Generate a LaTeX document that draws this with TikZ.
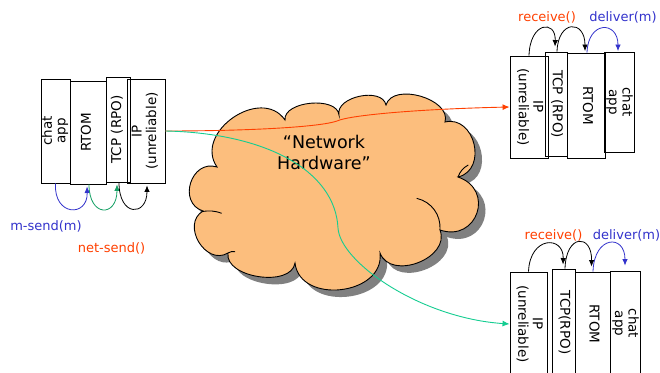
\documentclass[tikz,border=0pt]{standalone}
\usepackage{fontspec}
\setmainfont{DejaVu Sans}
\usetikzlibrary{arrows.meta,calc}

\definecolor{cloudfill}{RGB}{252,190,125}
\definecolor{shadowgray}{RGB}{128,128,128}
\definecolor{sendblue}{RGB}{51,51,204}
\definecolor{netred}{RGB}{255,64,0}
\definecolor{pathgreen}{RGB}{20,205,145}
\definecolor{stepgreen}{RGB}{20,160,100}

% rotated, centred multi-line text for a protocol layer
\newcommand{\layertext}[2]{\rotatebox{#1}{\begin{tabular}{@{}c@{}}#2\end{tabular}}}

% outline of the network cloud
\def\cloudoutline{(217,-167)
  to[bend left=90,looseness=1.3]  (285,-120)
  to[bend left=90,looseness=0.9]  (339,-115)
  to[bend left=90,looseness=1.0]  (386,-105)
  to[bend left=90,looseness=1.0]  (445,-122)
  to[bend left=90,looseness=1.4]  (458,-177)
  to[bend left=90,looseness=1.8]  (440,-230)
  to[bend left=90,looseness=1.2]  (380,-253)
  to[bend left=90,looseness=1.27] (295,-263)
  to[bend left=90,looseness=0.95] (228,-253)
  to[bend left=90,looseness=1.36] (203,-211)
  to[bend left=90,looseness=1.5]  (217,-167) -- cycle}

\tikzset{
  layer/.style={draw, line width=0.9pt, inner sep=0pt,
                font=\fontsize{13.5}{13.5}\selectfont},
  lbl/.style={font=\fontsize{13}{15}\selectfont, inner sep=1pt},
  tip/.style={-{Latex[length=6.5pt,width=5.5pt]}, line width=0.8pt},
  link/.style={-{Latex[length=7pt,width=6pt]}, line width=0.9pt},
}

\begin{document}
\begin{tikzpicture}[x=1pt,y=1pt]
\clip (0,0) rectangle (660,-372);
\fill[white] (0,0) rectangle (660,-372);

% ---- sender stack ----
\node[layer, minimum width=29pt, minimum height=104pt] (chatL) at (55.5,-131)  {\layertext{90}{chat\\app}};
\node[layer, minimum width=36pt, minimum height=103pt] (rtomL) at (88,-132.5)  {\layertext{90}{RTOM}};
\node[layer, minimum width=38pt, minimum height=104pt] (ipL)   at (146,-131)   {\layertext{90}{IP\\(unreliable)}};
\node[layer, minimum width=24pt, minimum height=105pt] (tcpL)  at (118,-129.5) {\layertext{90}{TCP (RPO)}};

% ---- receiver stack, top ----
\node[layer, minimum width=38pt, minimum height=102pt] (ipA)   at (529,-107)   {\layertext{-90}{IP\\(unreliable)}};
\node[layer, minimum width=22pt, minimum height=104pt] (tcpA)  at (556,-104)   {\layertext{-90}{TCP (RPO)}};
\node[layer, minimum width=38pt, minimum height=105pt] (rtomA) at (586,-105.5) {\layertext{-90}{RTOM}};
\node[layer, minimum width=30pt, minimum height=100pt] (chatA) at (619,-102)   {\layertext{-90}{chat\\app}};

% ---- receiver stack, bottom ----
\node[layer, minimum width=37pt, minimum height=104pt] (ipB)   at (528.5,-324) {\layertext{-90}{IP\\(unreliable)}};
\node[layer, minimum width=23pt, minimum height=107pt] (tcpB)  at (563.5,-322.5) {\layertext{-90}{TCP(RPO)}};
\node[layer, minimum width=35pt, minimum height=104pt] (rtomB) at (592.5,-324) {\layertext{-90}{RTOM}};
\node[layer, minimum width=30pt, minimum height=105pt] (chatB) at (625,-323.5) {\layertext{-90}{chat\\app}};

% ---- network cloud ----
\begin{scope}[shift={(7,-7)}]
  \fill[shadowgray] \cloudoutline;
\end{scope}
\filldraw[fill=cloudfill, draw=black, line width=0.9pt] \cloudoutline;
\draw[line width=0.9pt] (416.7,-198.3) to[bend left=40] (440,-230);
\draw[line width=0.9pt] (201.7,-211.7) to[bend left=15] (221.7,-213.3);
\draw[line width=0.9pt] (458,-177) to[bend left=20] (468.3,-165);
\draw[line width=0.9pt] (228,-253) to[bend left=20] (235,-251.7);
\node[font=\fontsize{17.5}{21.5}\selectfont, align=center] (net) at (324,-152.5) {“Network\\Hardware”};

% ---- send-side calls ----
\draw[tip, sendblue] (chatL.south)
  .. controls ($(chatL.south)+(-2,-33)$) and ($(rtomL.south)+(0,-33)$) .. ([shift={(-1,-2)}]rtomL.south);
\draw[tip, stepgreen] ([xshift=1pt]rtomL.south)
  .. controls ($(rtomL.south)+(1,-33)$) and ($(tcpL.south)+(-1,-35)$) .. ([shift={(-1,-2)}]tcpL.south);
\draw[tip, black] ([xshift=1pt]tcpL.south)
  .. controls ($(tcpL.south)+(1,-35)$) and ($(ipL.south)+(1,-33)$) .. ([shift={(1,-2)}]ipL.south);
\node[lbl, text=sendblue] (msend)   at (46,-226)    {m-send(m)};
\node[lbl, text=netred]   (netsend) at (111.5,-248) {net-send()};

% ---- receive-side calls, top ----
\draw[tip, black] (ipA.north)
  .. controls ($(ipA.north)+(1,34)$) and ($(tcpA.north)+(0,32)$) .. ([shift={(-1,5)}]tcpA.north);
\draw[tip, black] ([xshift=1pt]tcpA.north)
  .. controls ($(tcpA.north)+(2,32)$) and ($(rtomA.north)+(-1,33)$) .. ([shift={(-1,1.5)}]rtomA.north);
\draw[tip, sendblue] ([xshift=1pt]rtomA.north)
  .. controls ($(rtomA.north)+(2,32)$) and ($(chatA.north)+(-1,31)$) .. ([shift={(-1,0.5)}]chatA.north);
\node[lbl, text=netred]   (recvA)  at (547,-17)   {receive()};
\node[lbl, text=sendblue] (delivA) at (623,-17)   {deliver(m)};

% ---- receive-side calls, bottom ----
\draw[tip, black] (ipB.north)
  .. controls ($(ipB.north)+(1.5,36)$) and ($(tcpB.north)+(0.5,33)$) .. ([shift={(-0.5,4)}]tcpB.north);
\draw[tip, black] ([xshift=1.5pt]tcpB.north)
  .. controls ($(tcpB.north)+(2.5,35)$) and ($(rtomB.north)+(-0.5,38)$) .. ([shift={(-1,5)}]rtomB.north);
\draw[tip, sendblue] ([xshift=0.5pt]rtomB.north)
  .. controls ($(rtomB.north)+(1.5,36)$) and ($(chatB.north)+(0,37)$) .. ([shift={(0,5)}]chatB.north);
\node[lbl, text=netred]   (recvB)  at (553.5,-235) {receive()};
\node[lbl, text=sendblue] (delivB) at (626.5,-235) {deliver(m)};

% ---- packets across the network ----
\draw[link, netred] (ipL.east)
  .. controls (250,-131) and (320,-127) .. (337,-121)
  .. controls (350,-115) and (420,-109) .. (ipA.west);
\draw[link, pathgreen] (ipL.east)
  .. controls (265,-133) and (335,-170) .. (338,-228)
  .. controls (340,-262) and (420,-318) .. (ipB.west);
\end{tikzpicture}
\end{document}
